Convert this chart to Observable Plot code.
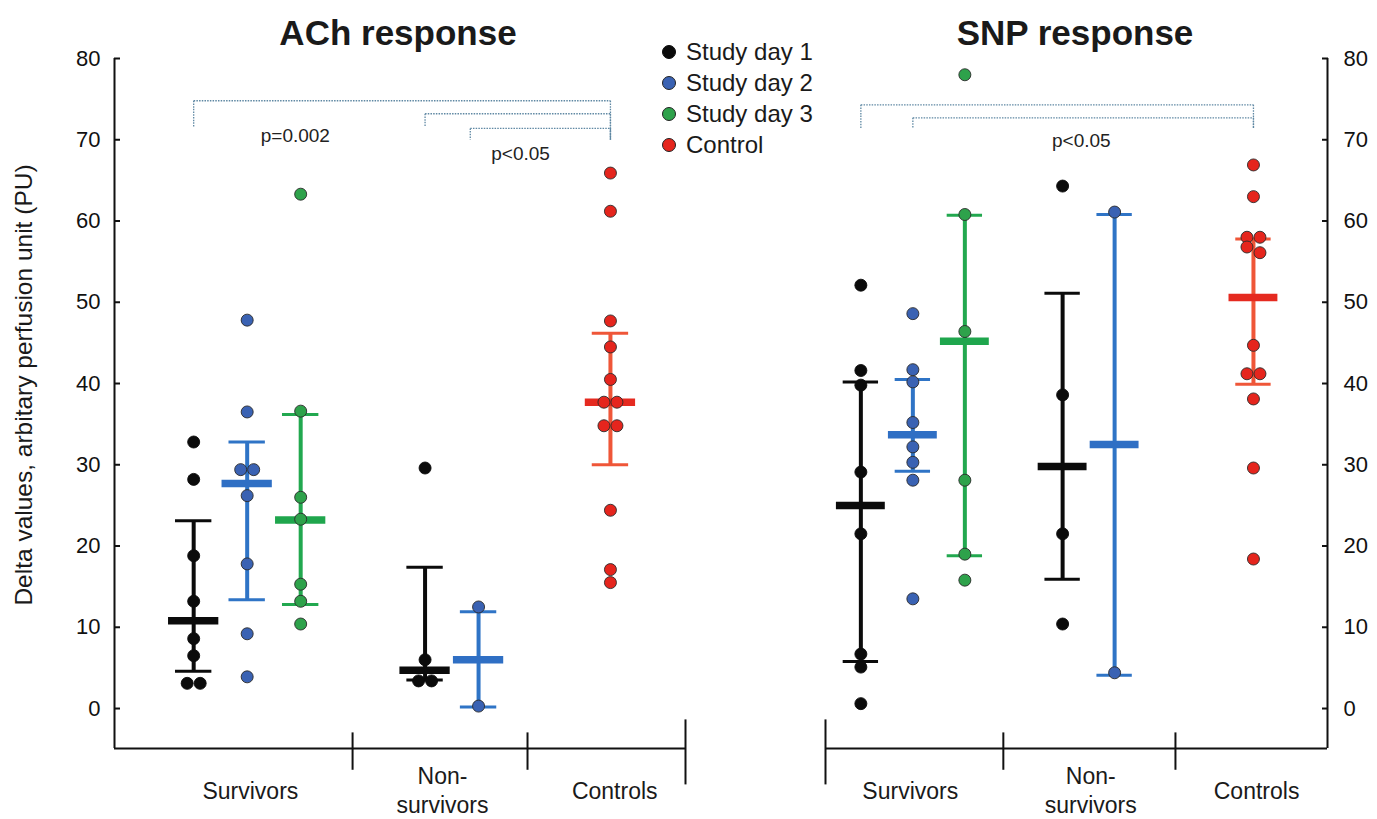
<!DOCTYPE html>
<html><head><meta charset="utf-8">
<script src="https://cdn.jsdelivr.net/npm/d3@7"></script>
<script src="https://cdn.jsdelivr.net/npm/@observablehq/plot@0.6"></script>
<style>
 body{margin:0;background:#fff;}
 #wrap{position:relative;width:1377px;height:819px;font-family:Arial,"Liberation Sans",sans-serif;overflow:hidden;background:#fff;color:#1a1a1a;}
 .abs{position:absolute;white-space:nowrap;}
 .title{font-weight:bold;font-size:35px;transform:translate(-50%,-50%);}
 .ylab{font-size:24.5px;transform:translate(-50%,-50%) rotate(-90deg);}
 .leg{font-size:24px;transform:translateY(-50%);display:flex;align-items:center;}
 .leg .dot{display:inline-block;width:14px;height:14px;border-radius:50%;border:1px solid #222;margin-right:10px;box-sizing:border-box;}
 .panel{position:absolute;top:0;}
</style></head>
<body><div id="wrap"></div>
<script>
// ---------------- data ----------------
const yTicks = [0, 10, 20, 30, 40, 50, 60, 70, 80];
const seriesNames = ["Study day 1", "Study day 2", "Study day 3", "Control"];
const groupNames = ["Survivors", "Non-survivors", "Controls"];
const groupLabels = ["Survivors", "Non-\nsurvivors", "Controls"];
// column order used by both panels
const colGroup = ["Survivors", "Survivors", "Survivors", "Non-survivors", "Non-survivors", "Controls"];
const colSeries = ["Study day 1", "Study day 2", "Study day 3", "Study day 1", "Study day 2", "Control"];

// ACh response, individual values (PU)
const achSurvivorsDay1 = [32.8, 28.2, 18.8, 13.2, 8.6, 6.5, 3.1, 3.1];
const achSurvivorsDay2 = [47.8, 36.5, 29.4, 29.4, 26.2, 17.8, 9.2, 3.9];
const achSurvivorsDay3 = [63.3, 36.6, 26.0, 23.3, 15.3, 13.2, 10.4];
const achNonSurvivorsDay1 = [29.6, 6.0, 3.4, 3.4];
const achNonSurvivorsDay2 = [12.5, 0.3];
const achControls = [65.9, 61.2, 47.7, 44.5, 40.5, 37.7, 37.7, 34.8, 34.8, 24.4, 17.1, 15.5];
// ACh summary per column: centre line, lower bar, upper bar
const achMid = [10.8, 27.7, 23.2, 4.7, 6.0, 37.7];
const achLow = [4.6, 13.4, 12.8, 3.5, 0.2, 30.0];
const achHigh = [23.1, 32.8, 36.2, 17.4, 11.9, 46.2];

// SNP response, individual values (PU)
const snpSurvivorsDay1 = [52.1, 41.6, 39.8, 29.1, 21.5, 6.7, 5.1, 0.6];
const snpSurvivorsDay2 = [48.6, 41.7, 40.2, 35.2, 32.2, 30.3, 28.1, 13.5];
const snpSurvivorsDay3 = [78.0, 60.8, 46.4, 28.1, 19.0, 15.8];
const snpNonSurvivorsDay1 = [64.3, 38.6, 21.5, 10.4];
const snpNonSurvivorsDay2 = [61.1, 4.4];
const snpControls = [66.9, 63.0, 58.0, 58.0, 56.8, 56.1, 44.7, 41.2, 41.2, 38.1, 29.6, 18.4];
const snpMid = [25.0, 33.7, 45.2, 29.8, 32.5, 50.6];
const snpLow = [5.8, 29.2, 18.8, 15.9, 4.1, 39.9];
const snpHigh = [40.2, 40.5, 60.7, 51.1, 60.8, 57.8];

// significance labels
const achPText = ["p=0.002", "p<0.05"];
const snpPText = ["p<0.05"];

// ---------------- styles / layout ----------------
const FONT = 'Arial, "Liberation Sans", sans-serif';
const seriesLine = {"Study day 1": "#0b0b0b", "Study day 2": "#2f74c6", "Study day 3": "#22a84f", "Control": "#ef5638"};
const seriesMidC = {"Study day 1": "#0b0b0b", "Study day 2": "#2f6fc4", "Study day 3": "#1fa64d", "Control": "#e52a20"};
const seriesDot = {"Study day 1": "#0b0b0b", "Study day 2": "#3a62b3", "Study day 3": "#2ea24b", "Control": "#e5251d"};
const Y_MIN = -4.92;
const BRACKET = "#5f88a3";

function panel(cfg) {
  const {values, mid, low, high, centers, domainX, width, marginLeft, marginRight, anchor,
         axisAt, dividers, edgeMarks, labelPos, brackets, pText, pPos} = cfg;
  const colPos = colGroup.map((g, i) => {
    const n = colGroup.filter(x => x === g).length;
    const k = colGroup.slice(0, i).filter(x => x === g).length;
    return centers[g] + (k - (n - 1) / 2);
  });
  const unitPx = (width - marginLeft - marginRight) / (domainX[1] - domainX[0]);
  const summary = colGroup.map((g, i) => ({pos: colPos[i], mid: mid[i], low: low[i], high: high[i],
    line: seriesLine[colSeries[i]], midc: seriesMidC[colSeries[i]]}));
  const pts = [];
  values.forEach((arr, i) => {
    const sorted = arr.slice().sort((a, b) => b - a);
    let cluster = [];
    const flush = () => {
      cluster.forEach((v, j) => pts.push({x: colPos[i] + (j - (cluster.length - 1) / 2) * 13 / unitPx, v,
        fill: seriesDot[colSeries[i]], black: colSeries[i] === "Study day 1"}));
      cluster = [];
    };
    sorted.forEach(v => { if (cluster.length && cluster[cluster.length - 1] - v >= 1.0) flush(); cluster.push(v); });
    flush();
  });
  const segs = [];
  brackets.forEach(b => {
    const x1 = b.from === "col" ? colPos[b.fromCol] : b.from;
    const x2 = colPos[b.toCol];
    segs.push({x1, x2, y1: b.level, y2: b.level});
    segs.push({x1, x2: x1, y1: b.level, y2: b.leg});
    segs.push({x1: x2, x2, y1: b.level, y2: b.rightLeg});
  });
  const capW = 0.34, midW = 0.47;
  return Plot.plot({
    width, height: 819, marginTop: 58, marginBottom: 71, marginLeft, marginRight,
    x: {domain: domainX, axis: null},
    y: {domain: [Y_MIN, 80], axis: null},
    style: {fontFamily: FONT, background: "transparent", overflow: "visible"},
    marks: [
      Plot.link(segs, {x1: "x1", y1: "y1", x2: "x2", y2: "y2", stroke: BRACKET, strokeWidth: 1.3, strokeDasharray: "1.5 1.2"}),
      Plot.text(pText, {x: (d, i) => pPos[i][0], y: (d, i) => pPos[i][1], text: d => d, fontSize: 19, fill: "#222"}),
      Plot.ruleX([axisAt], {stroke: "#111", strokeWidth: 2}),
      Plot.ruleY([Y_MIN], {stroke: "#111", strokeWidth: 2}),
      Plot.axisY({anchor, ticks: yTicks, tickSize: -6, tickPadding: anchor === "left" ? 20 : 22, fontSize: 22,
        label: null, color: "#111", strokeWidth: 2}),
      Plot.ruleX(dividers, {x: d => d, y1: -3.0, y2: -7.6, stroke: "#111", strokeWidth: 2}),
      Plot.ruleX(edgeMarks, {x: d => d, y1: -1.4, y2: -9.4, stroke: "#111", strokeWidth: 2}),
      Plot.text(groupLabels, {x: (d, i) => labelPos[i], frameAnchor: "bottom", dy: 41, text: d => d,
        lineAnchor: "middle", lineHeight: 1.25, fontSize: 23, fill: "#1a1a1a"}),
      Plot.ruleX(summary, {x: "pos", y1: "low", y2: "high", stroke: "line", strokeWidth: 4}),
      Plot.ruleY(summary, {y: "high", x1: d => d.pos - capW, x2: d => d.pos + capW, stroke: "line", strokeWidth: 3}),
      Plot.ruleY(summary, {y: "low", x1: d => d.pos - capW, x2: d => d.pos + capW, stroke: "line", strokeWidth: 3}),
      Plot.ruleY(summary, {y: "mid", x1: d => d.pos - midW, x2: d => d.pos + midW, stroke: "midc", strokeWidth: 7.5}),
      Plot.dot(pts, {x: "x", y: "v", r: 6, fill: "fill", stroke: d => d.black ? "#0b0b0b" : "#2a2a2a", strokeWidth: 0.9})
    ]
  });
}

const wrap = document.getElementById("wrap");

const left = panel({
  values: [achSurvivorsDay1, achSurvivorsDay2, achSurvivorsDay3, achNonSurvivorsDay1, achNonSurvivorsDay2, achControls],
  mid: achMid, low: achLow, high: achHigh,
  centers: {"Survivors": 2.48, "Non-survivors": 6.305, "Controls": 9.27},
  domainX: [0, 10.673], width: 700, marginLeft: 114, marginRight: 15, anchor: "left", axisAt: 0,
  dividers: [4.45, 7.72], edgeMarks: [10.673], labelPos: [2.54, 6.13, 9.35],
  brackets: [
    {from: "col", fromCol: 0, toCol: 5, level: 74.8, leg: 71.6, rightLeg: 70.0},
    {from: "col", fromCol: 3, toCol: 5, level: 73.2, leg: 71.6, rightLeg: 70.0},
    {from: 6.65, toCol: 5, level: 71.4, leg: 70.0, rightLeg: 70.0}
  ],
  pText: achPText, pPos: [[3.38, 70.5], [7.59, 68.3]]
});
left.classList.add("panel"); left.style.left = "0px";
wrap.appendChild(left);

const right = panel({
  values: [snpSurvivorsDay1, snpSurvivorsDay2, snpSurvivorsDay3, snpNonSurvivorsDay1, snpNonSurvivorsDay2, snpControls],
  mid: snpMid, low: snpLow, high: snpHigh,
  centers: {"Survivors": 1.68, "Non-survivors": 5.06, "Controls": 8.23},
  domainX: [0, 9.654], width: 677, marginLeft: 125, marginRight: 50, anchor: "right", axisAt: 9.654,
  dividers: [3.42, 6.73], edgeMarks: [0], labelPos: [1.63, 5.10, 8.29],
  brackets: [
    {from: "col", fromCol: 0, toCol: 5, level: 74.3, leg: 71.4, rightLeg: 71.4},
    {from: "col", fromCol: 1, toCol: 5, level: 72.7, leg: 71.4, rightLeg: 71.4}
  ],
  pText: snpPText, pPos: [[4.92, 69.9]]
});
right.classList.add("panel"); right.style.left = "700px";
wrap.appendChild(right);

// titles, axis title, legend
function addText(cls, text, x, y) {
  const d = document.createElement("div");
  d.className = "abs " + cls; d.textContent = text;
  d.style.left = x + "px"; d.style.top = y + "px";
  wrap.appendChild(d); return d;
}
addText("title", "ACh response", 398, 33);
addText("title", "SNP response", 1075, 33);
addText("ylab", "Delta values, arbitary perfusion unit (PU)", 24, 385);
seriesNames.forEach((s, i) => {
  const row = document.createElement("div");
  row.className = "abs leg";
  row.style.left = "662px"; row.style.top = (52 + i * 31) + "px";
  const dot = document.createElement("span");
  dot.className = "dot"; dot.style.background = seriesDot[s];
  if (s === "Study day 1") dot.style.borderColor = "#0b0b0b";
  row.appendChild(dot);
  row.appendChild(document.createTextNode(s));
  wrap.appendChild(row);
});
</script>
</body></html>
